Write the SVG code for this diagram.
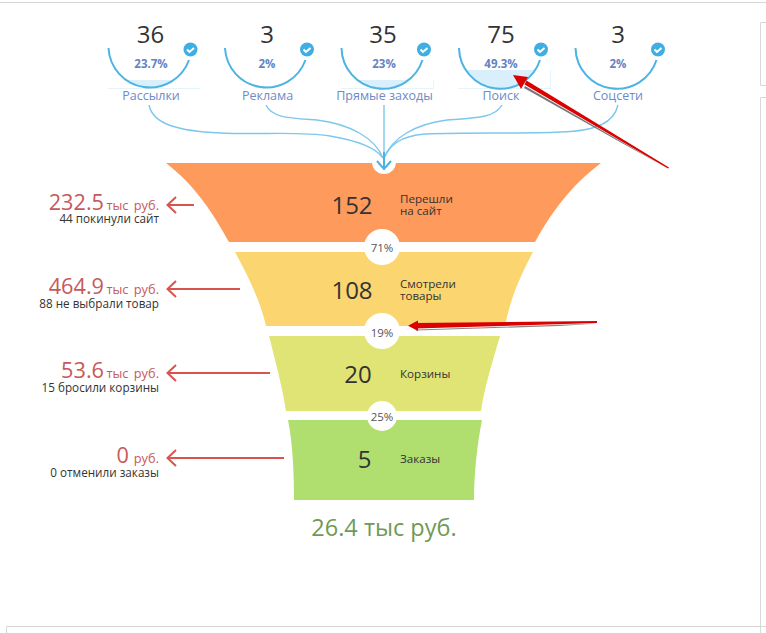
<svg xmlns="http://www.w3.org/2000/svg" width="766" height="633" viewBox="0 0 766 633">
<style>
text{font-family:"Open Sans","Noto Sans","DejaVu Sans",sans-serif}
.n{font-size:24px;fill:#333;text-anchor:middle}
.p{font-size:11.5px;font-weight:700;fill:#6483c4;text-anchor:middle}
.l{font-size:12.5px;fill:#6c8bc7;text-anchor:middle}
.arc{fill:none;stroke:#4db3e2;stroke-width:2}
.seg{fill:#d9effc}
.base{fill:none;stroke:#e4f3fc;stroke-width:1}
.badge{fill:#3fafe3}
.tick{fill:none;stroke:#fff;stroke-width:2}
.flow{fill:none;stroke:#7cc8ec;stroke-width:1.4}
.big{font-size:24px;fill:#333;text-anchor:middle}
.step{font-size:11.6px;fill:#333}
.pct{font-size:11.5px;fill:#555;text-anchor:middle}
.loss{text-anchor:end}
.r1{font-size:21.700px;fill:#c65a5a}
.r2{font-size:12.800px;fill:#c65a5a;word-spacing:2px}
.s{font-size:11.7px;fill:#333}
.ra{fill:none;stroke:#d9534f;stroke-width:2}
.frame{fill:none;stroke:#d8d8d8;stroke-width:1}
</style>
<defs>
<g id="badge"><circle r="7" class="badge"/><path d="M-3.500 0L-1 2.500L3.500-1.500" class="tick"/></g>
<clipPath id="c1"><circle cx="150" cy="47" r="41"/></clipPath>
<clipPath id="c3"><circle cx="383" cy="47" r="41"/></clipPath>
<clipPath id="c4"><circle cx="501" cy="47" r="41"/></clipPath>
</defs>

<g id="frames">
<path d="M0 2.500H766" class="frame"/>
<path d="M766 22.500H760.500V85.500H766" class="frame"/>
<path d="M766 97.500H760.500V633" class="frame"/>
<path d="M6.500 633V626.500H766" class="frame"/>
</g>

<g id="source-mail">
<rect x="108" y="80" width="84" height="8" class="seg" clip-path="url(#c1)"/>
<path d="M108 88.500H200" class="base"/>
<path d="M108.500 48A41.500 41.500 0 0 0 189 60" class="arc"/>
<use href="#badge" x="190.500" y="49.500"/>
<text x="150.500" y="42.500" class="n">36</text><text x="151" y="68" class="p">23.7%</text><text x="151" y="100" class="l">Рассылки</text>
</g>
<g id="source-ads">
<path d="M225 48A41.500 41.500 0 0 0 305.500 60" class="arc"/>
<use href="#badge" x="307" y="49.500"/>
<text x="267" y="42.500" class="n">3</text><text x="267" y="68" class="p">2%</text><text x="267.500" y="100" class="l">Реклама</text>
</g>
<g id="source-direct">
<rect x="341" y="80" width="84" height="8" class="seg" clip-path="url(#c3)"/>
<path d="M341 88.500H433.500V80" class="base"/>
<path d="M341.500 48A41.500 41.500 0 0 0 422.500 60" class="arc"/>
<use href="#badge" x="424" y="49.500"/>
<text x="383" y="42.500" class="n">35</text><text x="384" y="68" class="p">23%</text><text x="384.500" y="100" class="l">Прямые заходы</text>
</g>
<g id="source-search">
<rect x="459" y="70" width="84" height="18" class="seg" clip-path="url(#c4)"/>
<path d="M458 88.500H550.500V70" class="base"/>
<path d="M459 48A41.500 41.500 0 0 0 540 60" class="arc"/>
<use href="#badge" x="541" y="49.500"/>
<text x="501" y="42.500" class="n">75</text><text x="501" y="68" class="p">49.3%</text><text x="501" y="100" class="l">Поиск</text>
</g>
<g id="source-social">
<path d="M575.500 48A41.500 41.500 0 0 0 656.500 60" class="arc"/>
<use href="#badge" x="658" y="49.500"/>
<text x="618" y="42.500" class="n">3</text><text x="618" y="68" class="p">2%</text><text x="618" y="100" class="l">Соцсети</text>
</g>

<g id="stage-1">
<path d="M166 163H601C570 186 550 215 535 242H229C214 215 196 186 166 163Z" fill="#fd9a5c"/>
<text x="352" y="214" class="big">152</text><text class="step"><tspan x="400" y="203">Перешли</tspan><tspan x="400" y="215">на сайт</tspan></text>
</g>
<g id="stage-2">
<path d="M235 252H533C520 276 510 300 505 326H266C260 300 248 276 235 252Z" fill="#fad570"/>
<text x="352" y="299" class="big">108</text><text class="step"><tspan x="400" y="288">Смотрели</tspan><tspan x="400" y="300">товары</tspan></text>
</g>
<g id="stage-3">
<path d="M269 336H500C493 360 485 385 481 411H286C282 385 275 360 269 336Z" fill="#dfe475"/>
<text x="358" y="383" class="big">20</text><text x="400" y="378" class="step">Корзины</text>
</g>
<g id="stage-4">
<path d="M288 420H482C477 445 474 475 474 500H294C294 475 293 445 288 420Z" fill="#b0df70"/>
<text x="364.500" y="468" class="big">5</text><text x="400" y="463" class="step">Заказы</text>
</g>

<g id="rate-top"><circle cx="384" cy="162" r="12" fill="#fff"/></g>
<g id="rate-71"><circle cx="382" cy="247" r="18" fill="#fff"/><text x="382" y="252" class="pct">71%</text></g>
<g id="rate-19"><circle cx="382" cy="331" r="18" fill="#fff"/><text x="382" y="337" class="pct">19%</text></g>
<g id="rate-25"><circle cx="382" cy="416" r="15" fill="#fff"/><text x="382" y="421" class="pct">25%</text></g>

<g id="connectors">
<path d="M149 105C153 125 180 131 220 133C260 135 300 131 330 136C360 141 376 148 383 158" class="flow"/>
<path d="M266 105C272 118 290 118 317 120C350 124 375 138 383 158" class="flow"/>
<path d="M384 105V158" class="flow"/>
<path d="M502 105C495 118 475 118 447 120C415 124 392 138 384 158" class="flow"/>
<path d="M618 105C614 122 598 131 560 132C520 134 470 132 425 134C400 136 390 145 384 158" class="flow"/>
<path d="M384 152V168M377 161L384 169L391 161" fill="none" stroke="#4db3e2" stroke-width="2"/>
<path d="M194 205H168M176 197L167.500 205L176 213" class="ra"/>
<path d="M240 289H168M176 281L167.500 289L176 297" class="ra"/>
<path d="M270 373H168M176 365L167.500 373L176 381" class="ra"/>
<path d="M284 458H168M176 450L167.500 458L176 466" class="ra"/>
</g>

<g id="loss-1"><text class="loss"><tspan x="104" y="210" class="r1">232.5</tspan><tspan x="159" y="210" class="r2">тыс руб.</tspan><tspan x="159" y="223" class="s">44 покинули сайт</tspan></text></g>
<g id="loss-2"><text class="loss"><tspan x="104" y="294" class="r1">464.9</tspan><tspan x="159" y="294" class="r2">тыс руб.</tspan><tspan x="159" y="308" class="s">88 не выбрали товар</tspan></text></g>
<g id="loss-3"><text class="loss"><tspan x="104" y="378" class="r1">53.6</tspan><tspan x="159" y="378" class="r2">тыс руб.</tspan><tspan x="159" y="392" class="s">15 бросили корзины</tspan></text></g>
<g id="loss-4"><text class="loss"><tspan x="129" y="463" class="r1">0</tspan><tspan x="159" y="463" class="r2">руб.</tspan><tspan x="159" y="477" class="s">0 отменили заказы</tspan></text></g>

<text id="total" x="384" y="536" font-size="23.500" fill="#6f9a55" text-anchor="middle">26.4 тыс руб.</text>

<g id="annotations">
<path d="M668 168.500L525 86L524 88L620 142Z" fill="#777"/>
<path d="M669 167.500L526.500 80.500L524.500 84.500L668 168.500Z" fill="#dc0000"/>
<path d="M513 75L528 77L521 89Z" fill="#dc0000"/>
<path d="M597 323.500L416 329.500L416 330.500L560 326Z" fill="#888"/>
<path d="M597 321L415 323L415 328.500L597 323Z" fill="#dc0000"/>
<path d="M408 325.700L418 320.500L418 331Z" fill="#dc0000"/>
</g>
</svg>
